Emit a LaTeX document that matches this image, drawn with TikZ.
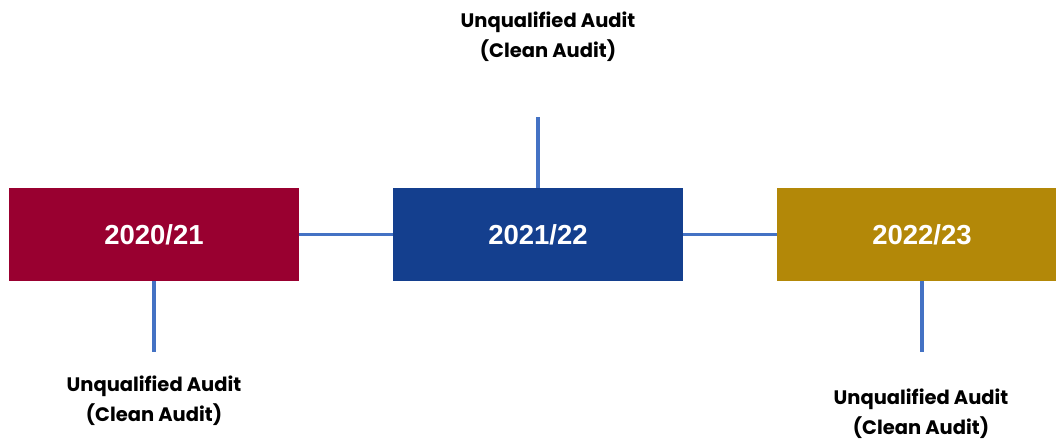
\documentclass[tikz,border=0pt]{standalone}
\usepackage{fontspec}
\newfontfamily\boxfont{Liberation Sans}
\newfontfamily\labfont{Poppins}
\definecolor{cRed}{HTML}{990030}
\definecolor{cBlue}{HTML}{143F8E}
\definecolor{cGold}{HTML}{B38808}
\definecolor{cLine}{HTML}{4472C4}
\begin{document}
\begin{tikzpicture}[x=1pt,y=-1pt,
  yearbox/.style={rectangle,minimum width=290pt,minimum height=93pt,inner sep=0pt,
    text=white,font=\boxfont\bfseries\fontsize{27.5}{30}\selectfont},
  lab/.style={align=center,inner sep=0pt,font=\labfont\bfseries\fontsize{19.5}{30}\selectfont},
  conn/.style={draw=cLine,line width=3.5pt}]
\useasboundingbox (0,0) rectangle (1056,441);
\fill[white] (0,0) rectangle (1056,441);
\node[yearbox,fill=cRed] (b1) at (154,234.5) {2020/21};
\node[yearbox,fill=cBlue] (b2) at (538,234.5) {2021/22};
\node[yearbox,fill=cGold] (b3) at (922,234.5) {2022/23};
\coordinate (c1) at (154,352);
\coordinate (c2) at (538,117);
\coordinate (c3) at (922,352);
\draw[conn] (b1.east) -- (b2.west);
\draw[conn] (b2.east) -- (b3.west);
\draw[conn] (b1.south) -- (c1);
\draw[conn] (b2.north) -- (c2);
\draw[conn] (b3.south) -- (c3);
\node[lab] (l2) at (548,37) {Unqualified Audit\\(Clean Audit)};
\node[lab] (l1) at (154,401) {Unqualified Audit\\(Clean Audit)};
\node[lab] (l3) at (921,414) {Unqualified Audit\\(Clean Audit)};
\end{tikzpicture}
\end{document}
